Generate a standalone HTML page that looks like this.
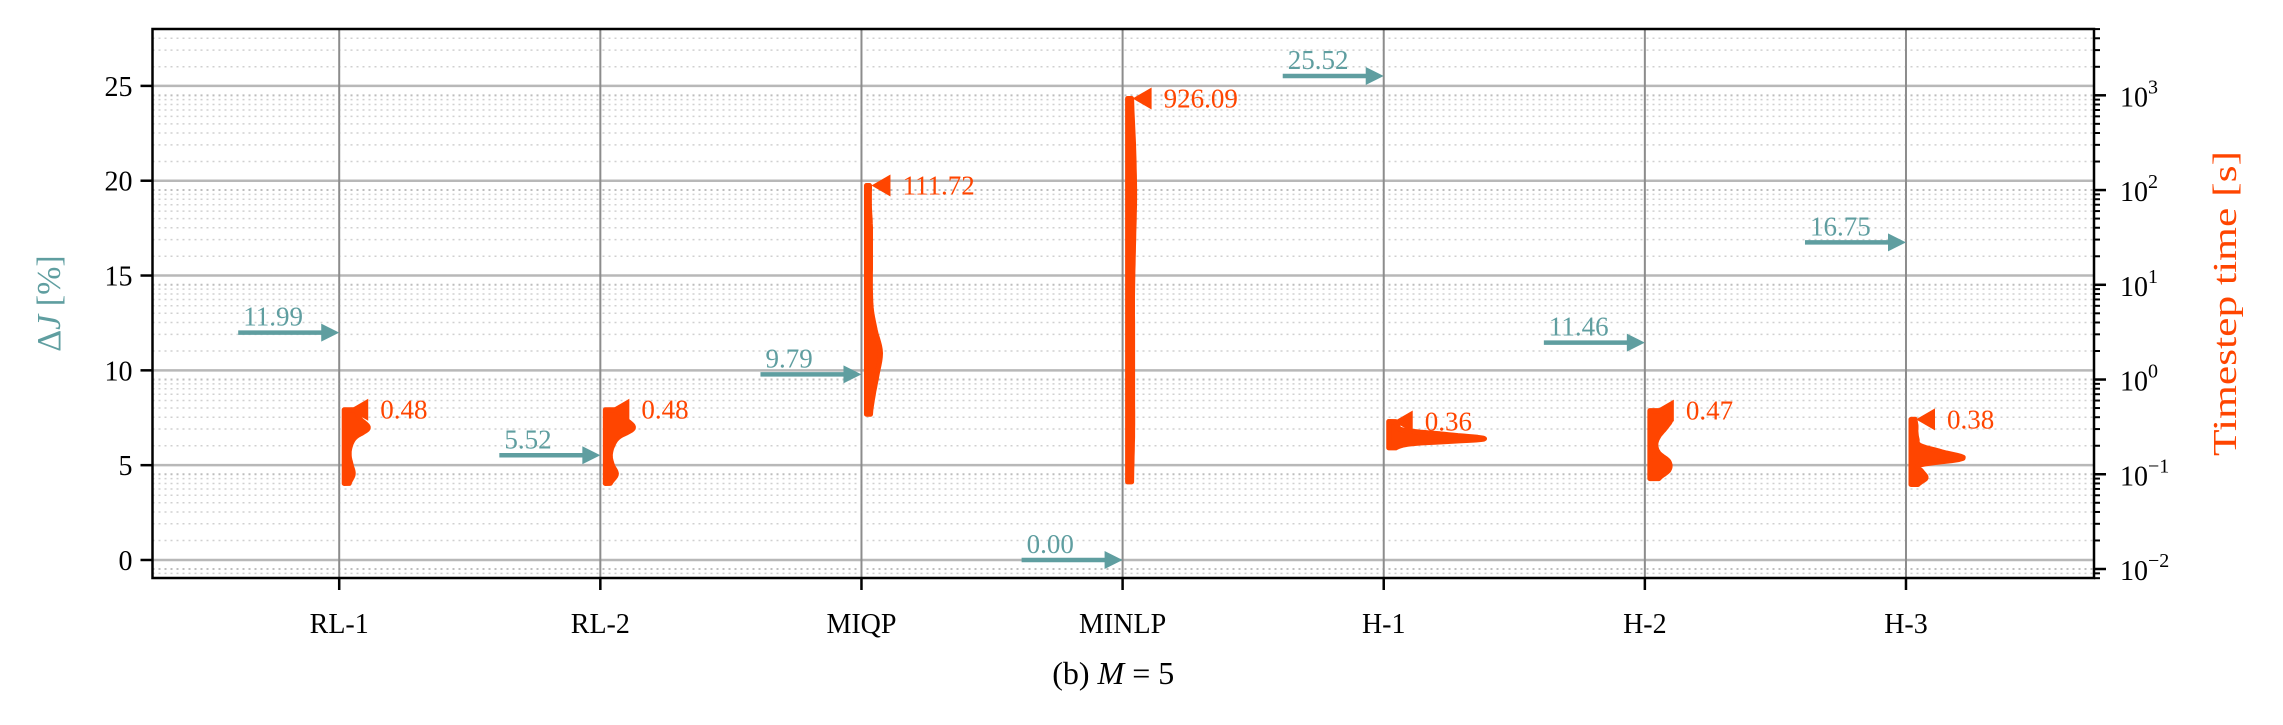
<!DOCTYPE html>
<html><head><meta charset="utf-8"><style>
html,body{margin:0;padding:0;background:#fff;}
svg{display:block;font-family:"Liberation Serif","DejaVu Serif",serif;}
</style></head><body>
<svg id="chart" width="2283" height="725" viewBox="0 0 2283 725" xmlns="http://www.w3.org/2000/svg"></svg>
<script>
const categories = ["RL-1","RL-2","MIQP","MINLP","H-1","H-2","H-3"];
const deltaJ = [11.99, 5.52, 9.79, 0.00, 25.52, 11.46, 16.75];
const deltaJLabels = ["11.99","5.52","9.79","0.00","25.52","11.46","16.75"];
const maxTime = [0.48, 0.48, 111.72, 926.09, 0.36, 0.47, 0.38];
const maxTimeLabels = ["0.48","0.48","111.72","926.09","0.36","0.47","0.38"];
const minTime = [0.08, 0.08, 0.43, 0.083, 0.19, 0.09, 0.078];
const dens0 = [0.05,0.09,0.07,0.05,0.06,0.11,0.24,0.16,0.12];
const dens1 = [0.05,0.11,0.07,0.05,0.07,0.13,0.28,0.20,0.12];
const dens2 = [0.04,0.07,0.11,0.14,0.09,0.05,0.04,0.04,0.04,0.04,0.03,0.03];
const dens3 = [0.04,0.05,0.05,0.05,0.05,0.06,0.07,0.06,0.04];
const dens4 = [0.07,0.26,0.95,0.60,0.16,0.09,0.07];
const dens5 = [0.09,0.19,0.19,0.09,0.06,0.09,0.16,0.21,0.15];
const dens6 = [0.07,0.15,0.11,0.09,0.52,0.31,0.09,0.06,0.05,0.05,0.04];
const leftTicks = [0,5,10,15,20,25];
const rightTickExps = [-2,-1,0,1,2,3];

const svg = document.getElementById('chart');
const NS = "http://www.w3.org/2000/svg";
const L=152.5, R=2094, T=29, B=578;
const xMin=-0.715, xMax=6.72;
const yMin=-0.95, yMax=28.0;
const lMin=-2.095, lMax=3.70;
const xs = i => L + (i - xMin)/(xMax-xMin)*(R-L);
const yl = v => B - (v - yMin)/(yMax-yMin)*(B-T);
const yr = t => B - (Math.log10(t) - lMin)/(lMax-lMin)*(B-T);
function mk(tag, attrs, parent){const e=document.createElementNS(NS,tag);for(const k in attrs)e.setAttribute(k,attrs[k]);(parent||svg).appendChild(e);return e;}

const grid = mk('g',{});


for(let e=-3;e<=4;e++){
  for(let m=1;m<=9;m++){
    const t=m*Math.pow(10,e); const y=yr(t);
    if(y<T||y>B) continue;
    mk('line',{x1:L,x2:R,y1:y,y2:y,stroke:m===1?'#bdbdbd':'#d0d0d0','stroke-width':m===1?2:1.5,'stroke-dasharray':'2,4'},grid);
  }
}
leftTicks.forEach(v=>{const y=yl(v);mk('line',{x1:L,x2:R,y1:y,y2:y,stroke:'#b8b8b8','stroke-width':2.5},grid);});
categories.forEach((c,i)=>{const x=xs(i);mk('line',{x1:x,x2:x,y1:T,y2:B,stroke:'#8c8c8c','stroke-width':2},grid);});

const dens=[dens0,dens1,dens2,dens3,dens4,dens5,dens6];
categories.forEach((c,i)=>{
  const d=dens[i], n=d.length, lo=Math.log10(minTime[i]), hi=Math.log10(maxTime[i]);
  const x0=xs(i)+5;
  const pts=[];
  const steps=60;
  for(let s=0;s<=steps;s++){
    const f=s/steps*(n-1); const k=Math.min(Math.floor(f),n-2); const u=f-k;
    const p0=d[Math.max(k-1,0)],p1=d[k],p2=d[k+1],p3=d[Math.min(k+2,n-1)];
    let w=0.5*((2*p1)+(-p0+p2)*u+(2*p0-5*p1+4*p2-p3)*u*u+(-p0+3*p1-3*p2+p3)*u*u*u);
    w=Math.max(w,0.01);
    const lt=lo+(hi-lo)*s/steps;
    pts.push([x0+w*100, yr(Math.pow(10,lt))]);
  }
  let dstr=`M${x0},${pts[0][1]} `+pts.map(p=>`L${p[0].toFixed(1)},${p[1].toFixed(1)}`).join(' ')+` L${x0},${pts[pts.length-1][1]} Z`;
  const v=mk('path',{d:dstr,fill:'#ff4500',stroke:'#ff4500','stroke-width':5,'stroke-linejoin':'round'});
  
  
});

categories.forEach((c,i)=>{
  const x=xs(i), y=yl(deltaJ[i]);
  const g=mk('g',{});
  
  
  mk('line',{x1:x-101,x2:x-16,y1:y,y2:y,stroke:'#5f9ea0','stroke-width':4.5},g);
  mk('polygon',{points:`${x},${y} ${x-18},${y-9} ${x-18},${y+9}`,fill:'#5f9ea0'},g);
  const t=mk('text',{x:x-96,y:y-7,fill:'#5f9ea0','font-size':27},g);
  t.textContent=deltaJLabels[i];
});

categories.forEach((c,i)=>{
  const x=xs(i), y=yr(maxTime[i]);
  const g=mk('g',{});
  
  
  mk('polygon',{points:`${x+10},${y} ${x+29},${y-11} ${x+29},${y+11}`,fill:'#ff4500'},g);
  const t=mk('text',{x:x+41,y:y+9,fill:'#ff4500','font-size':27},g);
  t.textContent=maxTimeLabels[i];
});

const fr=mk('rect',{x:L,y:T,width:R-L,height:B-T,fill:'none',stroke:'#000','stroke-width':2.5});



const lax=mk('g',{});


leftTicks.forEach(v=>{const y=yl(v);mk('line',{x1:L-12,x2:L,y1:y,y2:y,stroke:'#000','stroke-width':2.5},lax);
  const t=mk('text',{x:L-20,y:y+10,'text-anchor':'end','font-size':28,fill:'#000'},lax);t.textContent=String(v);});
const rax=mk('g',{});


for(let e=-3;e<=4;e++){for(let m=1;m<=9;m++){const y=yr(m*Math.pow(10,e));if(y<T-1||y>B+1)continue;
  mk('line',{x1:R,x2:R+(m===1?12:6),y1:y,y2:y,stroke:'#000','stroke-width':m===1?2.5:2},rax);}}
rightTickExps.forEach(e=>{const y=yr(Math.pow(10,e));
  const t=mk('text',{x:R+26,y:y+11,'font-size':28,fill:'#000'},rax);t.textContent='10';
  const s=mk('tspan',{dy:-13,'font-size':20},t);s.textContent=(e<0?'\u2212':'')+Math.abs(e);});
const xax=mk('g',{});


categories.forEach((c,i)=>{const x=xs(i);mk('line',{x1:x,x2:x,y1:B,y2:B+12,stroke:'#000','stroke-width':2.5},xax);
  const t=mk('text',{x:x,y:B+55,'text-anchor':'middle','font-size':28,fill:'#000'},xax);t.textContent=c;});

const yt=mk('text',{x:0,y:0,'text-anchor':'middle','font-size':34,fill:'#5f9ea0',transform:`translate(60,${(T+B)/2}) rotate(-90)`});


yt.innerHTML='\u0394<tspan font-style="italic">J</tspan> [%]';
const rt=mk('text',{x:0,y:0,'text-anchor':'middle','font-size':34,fill:'#ff4500',textLength:305,lengthAdjust:'spacingAndGlyphs',transform:`translate(2236,${(T+B)/2}) rotate(-90)`});


rt.textContent='Timestep time [s]';
const ct=mk('text',{x:(L+R)/2-10,y:684,'text-anchor':'middle','font-size':32,fill:'#000'});


ct.innerHTML='(b) <tspan font-style="italic">M</tspan> = 5';
</script>
</body></html>
